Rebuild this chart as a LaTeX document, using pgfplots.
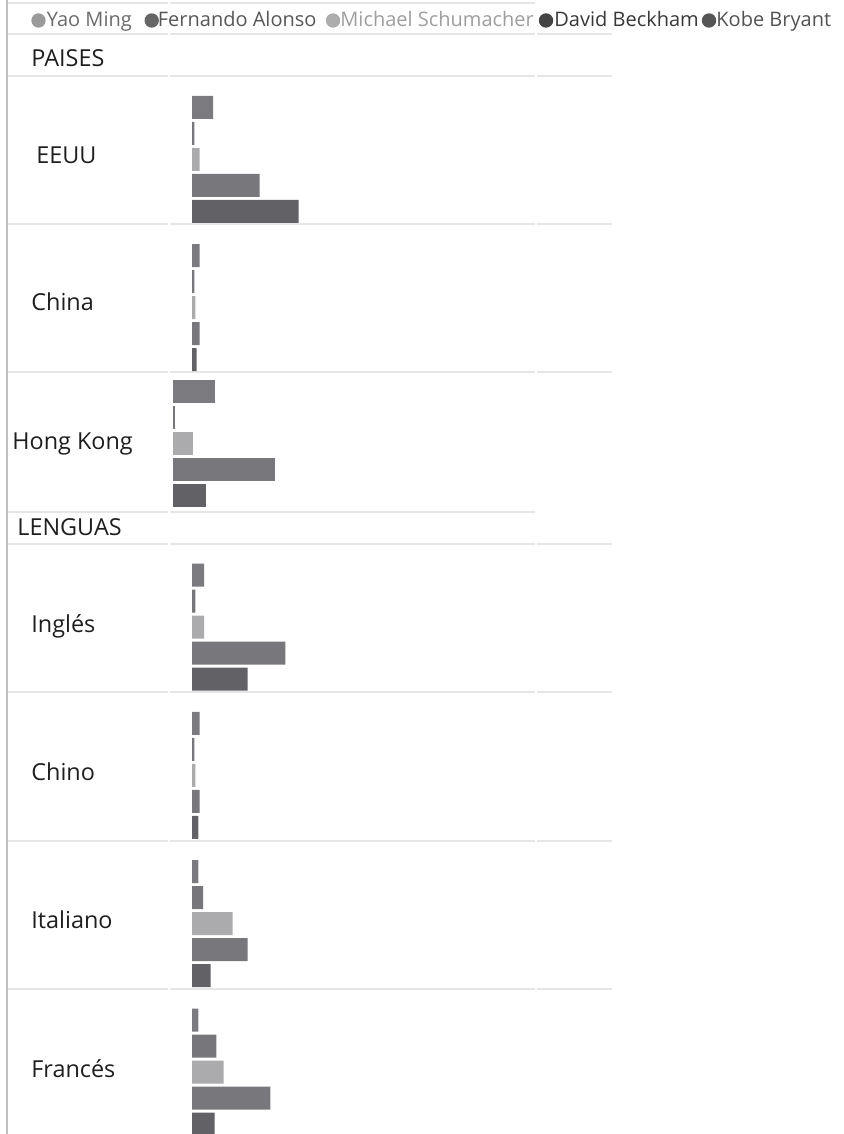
\documentclass[border=0pt]{standalone}
\usepackage{fontspec}
\setmainfont{Open Sans}
\usepackage{pgfplots}
\usepackage{pgfplotstable}
\pgfplotsset{compat=1.18}

\definecolor{cyao}{HTML}{7B7B7F}
\definecolor{cfer}{HTML}{77777B}
\definecolor{cmic}{HTML}{ABABAE}
\definecolor{cdav}{HTML}{78787C}
\definecolor{ckob}{HTML}{626266}
\definecolor{gridc}{HTML}{E6E6E6}
\definecolor{labc}{HTML}{1E1E1E}
\definecolor{dyao}{HTML}{9A9A9A}
\definecolor{dfer}{HTML}{666666}
\definecolor{dmic}{HTML}{ADADAD}
\definecolor{ddav}{HTML}{444444}
\definecolor{dkob}{HTML}{555555}

% y = centre of the middle bar (px from top), values = bar length in px
\pgfplotstableread{
y      yao   fer   mic   dav   kob
159.3  21.0  2.3   7.7   67.7  106.7
307.7  7.7   2.3   3.3   7.7   4.7
627.0  12.0  3.3   12.0  93.3  55.7
775.3  7.7   2.3   3.3   7.7   6.3
923.7  6.3   11.0  40.7  55.7  18.7
1072.0 6.3   24.3  31.7  78.3  22.7
}\groups
% Hong Kong has its own origin
\pgfplotstableread{
y      yao   fer   mic   dav   kob
443.7  42.3  2.0   19.7  102.3 33.3
}\hk

\pgfplotsset{
  grp/.style={anchor=north west, x=0.5pt, y=0.5pt, y dir=reverse,
    xmin=0, xmax=420, ymin=0, ymax=1134, enlargelimits=false,
    hide axis, clip=false, xbar, bar width=11.5pt},
}

\begin{document}
\begin{tikzpicture}[x=0.5pt,y=-0.5pt]
\useasboundingbox (0,0) rectangle (843,1134);

% separators
\foreach \yy in {34.5,76,224.5,372,543.5,692,840.5,988.5}{
  \draw[gridc, line width=1pt] (8,\yy) -- (168,\yy);
  \draw[gridc, line width=1pt] (170,\yy) -- (535,\yy);
  \draw[gridc, line width=1pt] (537,\yy) -- (612,\yy);
}
\foreach \yy in {3.3,512}{
  \draw[gridc, line width=1pt] (8,\yy) -- (168,\yy);
  \draw[gridc, line width=1pt] (170,\yy) -- (535,\yy);
}
\draw[black!25, line width=1pt] (6.5,0) -- (6.5,1134);

\begin{axis}[grp, at={(96pt,0pt)}]
  \addplot[fill=cyao, draw=none, bar shift=26pt]  table[x=yao, y=y] {\groups};
  \addplot[fill=cfer, draw=none, bar shift=13pt]  table[x=fer, y=y] {\groups};
  \addplot[fill=cmic, draw=none, bar shift=0pt]   table[x=mic, y=y] {\groups};
  \addplot[fill=cdav, draw=none, bar shift=-13pt] table[x=dav, y=y] {\groups};
  \addplot[fill=ckob, draw=none, bar shift=-26pt] table[x=kob, y=y] {\groups};
\end{axis}
\begin{axis}[grp, at={(86.5pt,0pt)}]
  \addplot[fill=cyao, draw=none, bar shift=26pt]  table[x=yao, y=y] {\hk};
  \addplot[fill=cfer, draw=none, bar shift=13pt]  table[x=fer, y=y] {\hk};
  \addplot[fill=cmic, draw=none, bar shift=0pt]   table[x=mic, y=y] {\hk};
  \addplot[fill=cdav, draw=none, bar shift=-13pt] table[x=dav, y=y] {\hk};
  \addplot[fill=ckob, draw=none, bar shift=-26pt] table[x=kob, y=y] {\hk};
\end{axis}

% legend
\begin{scope}[every node/.style={anchor=base west, inner sep=0, font=\fontsize{10}{12}\selectfont}]
  \fill[dyao] (38.5,20.5) circle [radius=3.6pt];
  \node[text=black!58] at (46.5,26.7) {Yao Ming};
  \fill[dfer] (151.7,20.5) circle [radius=3.6pt];
  \node[text=black!66] at (157.5,26.7) {Fernando Alonso};
  \fill[dmic] (333,20.5) circle [radius=3.6pt];
  \node[text=black!38] at (340,26.7) {Michael Schumacher};
  \fill[ddav] (546,20.5) circle [radius=3.6pt];
  \node[text=black!78] at (554,26.7) {David Beckham};
  \fill[dkob] (709,20.5) circle [radius=3.6pt];
  \node[text=black!68] at (716,26.7) {Kobe Bryant};
\end{scope}

% section headers and category labels
\begin{scope}[every node/.style={anchor=base west, inner sep=0, text=labc, font=\fontsize{11.7}{14}\selectfont}]
  \node at (31,67) {PAISES};
  \node at (17,535) {LENGUAS};
  \node at (36,163.5) {EEUU};
  \node at (31,310.5) {China};
  \node at (12,449) {Hong Kong};
  \node at (31,632) {Inglés};
  \node at (31,780.5) {Chino};
  \node at (31,928.5) {Italiano};
  \node at (31,1077.5) {Francés};
\end{scope}
\end{tikzpicture}
\end{document}
